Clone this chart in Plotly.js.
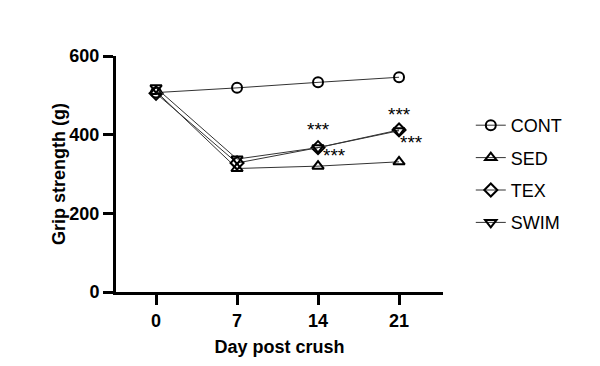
<!DOCTYPE html>
<html>
<head>
<meta charset="utf-8">
<script src="https://cdn.plot.ly/plotly-3.0.1.min.js"></script>
<style>html,body{margin:0;padding:0;background:#fff;}#chart{width:600px;height:366px;}</style>
</head>
<body>
<div id="chart"></div>
<script>
const days = [0, 7, 14, 21];
const tickLabels = ["0", "7", "14", "21"];
const seriesNames = ["CONT", "SED", "TEX", "SWIM"];
const cont = [507, 519, 533, 546];
const sed = [510, 314, 320, 331];
const tex = [505, 328, 367, 412];
const swim = [519, 338, 367, 410];
const symbols = ["circle-open", "triangle-up-open", "diamond-open", "triangle-down-open"];
const sigX = [14, 15.4, 21, 22.1];
const sigY = [414, 348, 452, 380];
const sigText = ["***", "***", "***", "***"];

const values = [cont, sed, tex, swim];
const traces = values.map((v, i) => ({
  x: days, y: v, name: seriesNames[i], type: "scatter", mode: "lines+markers",
  legendgroup: "g" + i,
  line: {color: "#333", width: 1},
  marker: {symbol: symbols[i], size: 10, color: "#000", line: {color: "#000", width: 2}}
}));

const annotations = sigX.map((x, i) => ({
  x: x, y: sigY[i], text: sigText[i], showarrow: false, xref: "x", yref: "y",
  font: {family: "Liberation Sans, Arial, sans-serif", size: 19, color: "#000"}
}));

const axisCommon = {
  showgrid: false, zeroline: false, showline: true, linecolor: "#000", linewidth: 3,
  ticks: "outside", ticklen: 10, tickwidth: 3, tickcolor: "#000",
  tickfont: {family: "Liberation Sans, Arial, sans-serif", size: 18, color: "#000", weight: "bold"}
};

const layout = {
  width: 600, height: 366,
  margin: {l: 116, r: 157, t: 56, b: 74},
  paper_bgcolor: "#fff", plot_bgcolor: "#fff",
  font: {family: "Liberation Sans, Arial, sans-serif", color: "#000"},
  xaxis: Object.assign({}, axisCommon, {
    range: [-3.46, 24.8], tickvals: days, ticktext: tickLabels,
    title: {text: "Day post crush", font: {size: 18, weight: "bold", color: "#000"}, standoff: 11}
  }),
  yaxis: Object.assign({}, axisCommon, {
    range: [0, 600], tickvals: [0, 200, 400, 600],
    title: {text: "Grip strength (g)", font: {size: 18, weight: "bold", color: "#000"}, standoff: 0}
  }),
  showlegend: true,
  legend: {x: 1.085, xanchor: "left", y: 0.5, yanchor: "middle", traceorder: "grouped", tracegroupgap: 6,
    itemwidth: 30,
    font: {size: 18, color: "#000", family: "Liberation Sans, Arial, sans-serif"}, bgcolor: "rgba(0,0,0,0)"},
  annotations: annotations
};

Plotly.newPlot("chart", traces, layout, {displayModeBar: false, staticPlot: true});
</script>
</body>
</html>
